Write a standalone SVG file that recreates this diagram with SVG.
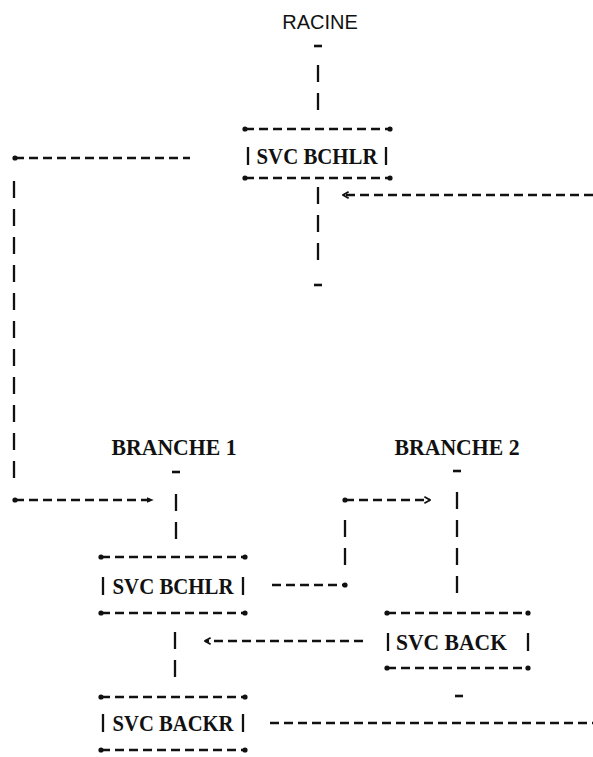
<svg xmlns="http://www.w3.org/2000/svg" width="593" height="757" viewBox="0 0 593 757">
<defs>
<style>
.dash{stroke:#111;stroke-width:2.5;fill:none;stroke-dasharray:9 5}
.vbar{stroke:#111;stroke-width:2.3;fill:none;stroke-dasharray:17 11}
.side{stroke:#111;stroke-width:2.3}
.tick{stroke:#111;stroke-width:2.6}
.dot{fill:#111}
.lbl{font-family:"Liberation Serif","DejaVu Serif",serif;font-weight:bold;font-size:24px;fill:#111}
.root{font-family:"Liberation Sans",Arial,sans-serif;font-size:20px;fill:#111}
</style>
<marker id="tri" viewBox="0 0 10 10" refX="9" refY="5" markerWidth="7" markerHeight="7" markerUnits="userSpaceOnUse" orient="auto"><path d="M0,1 L10,5 L0,9 Z" fill="#111"/></marker>
<marker id="chev" viewBox="0 0 10 10" refX="9" refY="5" markerWidth="8" markerHeight="8" markerUnits="userSpaceOnUse" orient="auto"><path d="M2,1 L9,5 L2,9" fill="none" stroke="#111" stroke-width="2.2"/></marker>
</defs>
<rect width="593" height="757" fill="#fff"/>

<g id="racine">
<text class="root" x="320" y="29" text-anchor="middle">RACINE</text>
</g>

<g id="svc-bchlr-top">
<line class="dash" x1="245" y1="129" x2="390" y2="129"/>
<circle class="dot" cx="245" cy="129" r="2.6"/><circle class="dot" cx="390" cy="129" r="2.6"/>
<line class="side" x1="248" y1="147" x2="248" y2="165"/><line class="side" x1="386" y1="147" x2="386" y2="165"/>
<text class="lbl" x="317" y="164" text-anchor="middle" textLength="121" lengthAdjust="spacingAndGlyphs">SVC BCHLR</text>
<line class="dash" x1="245" y1="178" x2="390" y2="178"/>
<circle class="dot" cx="245" cy="178" r="2.6"/><circle class="dot" cx="390" cy="178" r="2.6"/>
</g>

<g id="branche-1">
<text class="lbl" x="174" y="455" text-anchor="middle" textLength="125" lengthAdjust="spacingAndGlyphs">BRANCHE 1</text>
</g>

<g id="branche-2">
<text class="lbl" x="457" y="455" text-anchor="middle" textLength="125" lengthAdjust="spacingAndGlyphs">BRANCHE 2</text>
</g>

<g id="svc-bchlr-b1">
<line class="dash" x1="101" y1="557" x2="245" y2="557"/>
<circle class="dot" cx="101" cy="557" r="2.6"/><circle class="dot" cx="245" cy="557" r="2.6"/>
<line class="side" x1="103" y1="577" x2="103" y2="595"/><line class="side" x1="243" y1="577" x2="243" y2="595"/>
<text class="lbl" x="173" y="594" text-anchor="middle" textLength="121" lengthAdjust="spacingAndGlyphs">SVC BCHLR</text>
<line class="dash" x1="101" y1="613" x2="245" y2="613"/>
<circle class="dot" cx="101" cy="613" r="2.6"/><circle class="dot" cx="245" cy="613" r="2.6"/>
</g>

<g id="svc-back">
<line class="dash" x1="387" y1="613" x2="528" y2="613"/>
<circle class="dot" cx="387" cy="613" r="2.6"/><circle class="dot" cx="528" cy="613" r="2.6"/>
<line class="side" x1="388" y1="633" x2="388" y2="651"/><line class="side" x1="528" y1="633" x2="528" y2="651"/>
<text class="lbl" x="396" y="650" textLength="111" lengthAdjust="spacingAndGlyphs">SVC BACK</text>
<line class="dash" x1="387" y1="668" x2="528" y2="668"/>
<circle class="dot" cx="387" cy="668" r="2.6"/><circle class="dot" cx="528" cy="668" r="2.6"/>
</g>

<g id="svc-backr">
<line class="dash" x1="101" y1="697" x2="245" y2="697"/>
<circle class="dot" cx="101" cy="697" r="2.6"/><circle class="dot" cx="245" cy="697" r="2.6"/>
<line class="side" x1="103" y1="714" x2="103" y2="732"/><line class="side" x1="243" y1="714" x2="243" y2="732"/>
<text class="lbl" x="173" y="731" text-anchor="middle" textLength="121" lengthAdjust="spacingAndGlyphs">SVC BACKR</text>
<line class="dash" x1="101" y1="750" x2="245" y2="750"/>
<circle class="dot" cx="101" cy="750" r="2.6"/><circle class="dot" cx="245" cy="750" r="2.6"/>
</g>

<g id="connectors">
<line class="tick" x1="314" y1="46" x2="322" y2="46"/>
<line class="vbar" x1="318" y1="65" x2="318" y2="112"/>
<line class="vbar" x1="318" y1="187" x2="318" y2="262"/>
<line class="tick" x1="314" y1="285" x2="322" y2="285"/>
<line class="dash" x1="593" y1="195" x2="343" y2="195" marker-end="url(#chev)"/>
<line class="dash" x1="15" y1="158" x2="190" y2="158"/>
<circle class="dot" cx="15" cy="158" r="2.6"/>
<line class="vbar" x1="14" y1="181" x2="14" y2="484"/>
<line class="dash" x1="15" y1="500" x2="153" y2="500" marker-end="url(#tri)"/>
<circle class="dot" cx="15" cy="500" r="2.6"/>
<line class="tick" x1="172" y1="472" x2="180" y2="472"/>
<line class="vbar" x1="176" y1="494" x2="176" y2="540"/>
<line class="dash" x1="272" y1="585" x2="345" y2="585"/>
<circle class="dot" cx="345" cy="585" r="2.6"/>
<line class="vbar" x1="345" y1="520" x2="345" y2="570"/>
<line class="dash" x1="345" y1="500" x2="430" y2="500" marker-end="url(#chev)"/>
<circle class="dot" cx="345" cy="500" r="2.6"/>
<line class="tick" x1="453" y1="471" x2="461" y2="471"/>
<line class="vbar" x1="457" y1="492" x2="457" y2="596"/>
<line class="dash" x1="363" y1="641" x2="205" y2="641" marker-end="url(#chev)"/>
<line class="vbar" x1="175" y1="632" x2="175" y2="681"/>
<line class="tick" x1="455" y1="696" x2="463" y2="696"/>
<line class="dash" x1="270" y1="723" x2="593" y2="723"/>
</g>
</svg>
